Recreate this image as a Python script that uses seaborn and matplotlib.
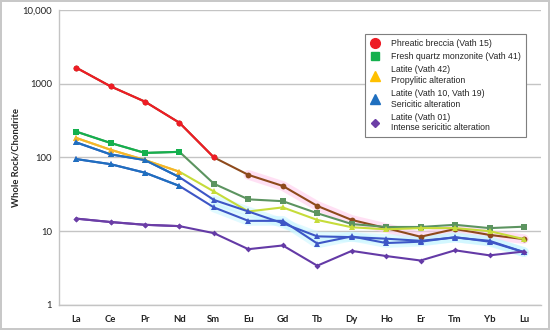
import matplotlib
matplotlib.use("Agg")
import matplotlib.pyplot as plt
import numpy as np
import pandas as pd
import seaborn as sns
from matplotlib.lines import Line2D
from matplotlib.ticker import FixedLocator, NullLocator

elements = ["La", "Ce", "Pr", "Nd", "Sm", "Eu", "Gd", "Tb", "Dy", "Ho", "Er", "Tm", "Yb", "Lu"]

vath15 = [1650, 920, 570, 295, 100, 58, 41, 22, 14.2, 11.0, 8.4, 10.7, 8.9, 7.8]
vath41 = [224, 157, 115, 119, 44, 27, 25.5, 17.5, 12.5, 11.4, 11.4, 12.2, 11.0, 11.5]
vath42 = [184, 127, 92, 64, 34.5, 18.5, 21, 14.2, 11.3, 10.6, 11.0, 11.0, 10.0, 7.8]
vath10 = [160, 110, 92, 54, 26.5, 18.5, 12.8, 8.5, 8.3, 7.9, 7.4, 8.2, 7.4, 5.2]
vath19 = [95, 81, 62, 41, 21, 13.8, 13.8, 6.8, 8.5, 6.9, 7.2, 8.3, 7.2, 5.2]
vath01 = [14.8, 13.3, 12.2, 11.7, 9.4, 5.7, 6.4, 3.4, 5.4, 4.6, 4.0, 5.5, 4.7, 5.3]

legend_labels = [
    "Phreatic breccia (Vath 15)",
    "Fresh quartz monzonite (Vath 41)",
    "Latite (Vath 42)\nPropylitic alteration",
    "Latite (Vath 10, Vath 19)\nSericitic alteration",
    "Latite (Vath 01)\nIntense sericitic alteration",
]
y_ticks = [1, 10, 100, 1000, 10000]
y_tick_labels = ["1", "10", "100", "1000", "10,000"]

# (values, early colour, later colour, marker, size, last early index, halo)
series = [
    (vath15, "#ee1c25", "#8e4a1c", "o", 4.2, 4, "#ffc8ec"),
    (vath41, "#14b04e", "#5c9460", "s", 4.0, 3, None),
    (vath42, "#f9b42a", "#c6dc3a", "^", 4.2, 3, None),
    (vath10, "#1f6fbf", "#3d56c6", "^", 4.2, 3, "#c8f6ff"),
    (vath19, "#1f6fbf", "#3d56c6", "^", 4.2, 3, "#c8f6ff"),
    (vath01, "#6c3ea6", "#643aa6", "D", 3.0, 3, None),
]

sns.set_theme(style="white")
plt.rcParams["font.family"] = ["Lato", "DejaVu Sans"]

fig = plt.figure(figsize=(5.5, 3.3), dpi=100)
fig.patch.set_edgecolor("#c8c8c8")
fig.patch.set_linewidth(1.5)
ax = fig.add_axes([0.107, 0.076, 0.877, 0.894])

# full lines first so the category order on the axis is the element order
for vals, c1, c2, mk, ms, cut, glow in series:
    d = pd.DataFrame({"el": elements, "v": vals})
    sns.lineplot(data=d, x="el", y="v", color=c2, lw=1.5, marker=mk,
                 markersize=ms, markeredgewidth=0, ax=ax, zorder=3)

# brighter first part of each pattern
for vals, c1, c2, mk, ms, cut, glow in series:
    d = pd.DataFrame({"el": elements[:cut + 1], "v": vals[:cut + 1]})
    sns.lineplot(data=d, x="el", y="v", color=c1, lw=1.5, marker=mk,
                 markersize=ms, markeredgewidth=0, ax=ax, zorder=4)

# soft halo behind some of the later segments
for vals, c1, c2, mk, ms, cut, glow in series:
    if glow is None:
        continue
    d = pd.DataFrame({"el": elements[cut + 1:], "v": vals[cut + 1:]})
    sns.lineplot(data=d, x="el", y="v", color=glow, lw=7, alpha=0.55,
                 solid_capstyle="round", ax=ax, zorder=1)

ax.set_yscale("log")
ax.set_ylim(1, 10000)
ax.set_xlim(-0.5, len(elements) - 0.5)
ax.yaxis.set_major_locator(FixedLocator(y_ticks))
ax.yaxis.set_minor_locator(NullLocator())
ax.set_yticklabels(y_tick_labels)
ax.grid(axis="y", color="#c4c4c4", lw=1)
ax.grid(axis="x", visible=False)
for side in ["top", "right"]:
    ax.spines[side].set_visible(False)
for side in ["left", "bottom"]:
    ax.spines[side].set_color("#c4c4c4")
    ax.spines[side].set_linewidth(1)
ax.tick_params(axis="y", labelsize=6.8, colors="#222222", length=0, pad=5)
ax.tick_params(axis="x", labelsize=6.8, colors="#222222", length=0, pad=7)
for t in ax.get_xticklabels():
    t.set_fontweight("bold")
ax.set_xlabel("")
ax.set_ylabel("Whole Rock/Chondrite", fontsize=6.8, fontweight="bold", labelpad=1)

handles = [
    Line2D([], [], ls="", marker="o", ms=7, color="#ee1c25"),
    Line2D([], [], ls="", marker="s", ms=6, color="#14b04e"),
    Line2D([], [], ls="", marker="^", ms=7, color="#ffc000"),
    Line2D([], [], ls="", marker="^", ms=7, color="#1f6fbf"),
    Line2D([], [], ls="", marker="D", ms=4, color="#6c3ea6"),
]
leg = ax.legend(handles, legend_labels, loc="upper left", bbox_to_anchor=(0.626, 0.932),
                frameon=True, fancybox=False, edgecolor="#7f7f7f", framealpha=1,
                prop={"family": "Liberation Sans", "size": 6.3}, labelspacing=0.5,
                handletextpad=1.2, borderpad=0.5, handlelength=1.3)
leg.get_frame().set_linewidth(0.8)

fig.savefig("out.png", dpi=100)
